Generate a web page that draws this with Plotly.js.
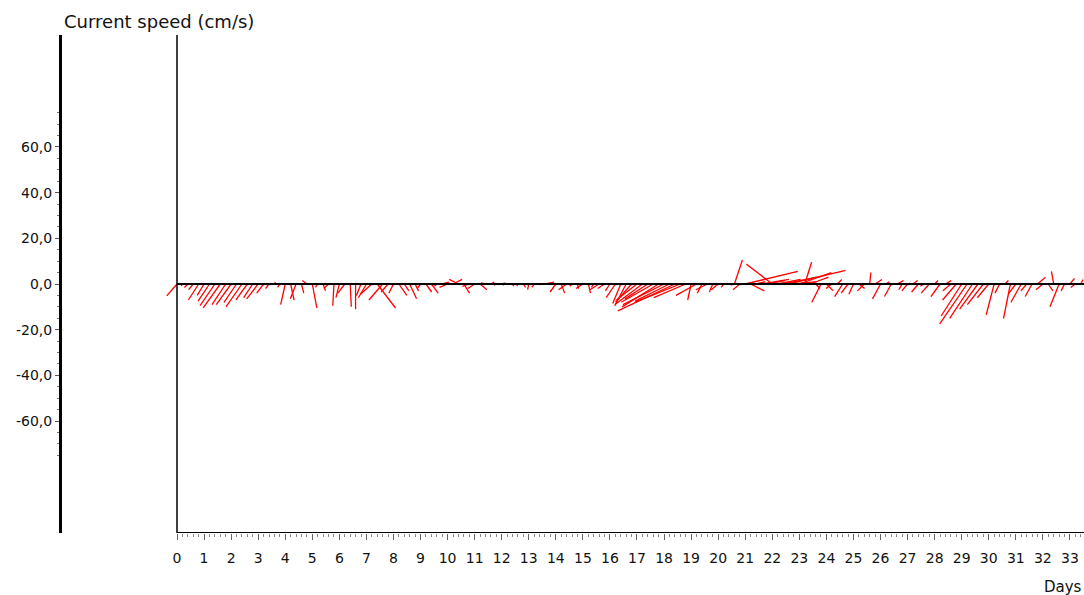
<!DOCTYPE html>
<html><head><meta charset="utf-8">
<script src="https://cdn.plot.ly/plotly-3.0.1.min.js"></script>
<style>html,body{margin:0;padding:0;background:#fff}#chart{width:1084px;height:595px}</style>
</head><body><div id="chart"></div>
<script>
// time of each current vector (days)
const t = [
 0.0,0.2,0.4,0.6,0.8, 1.0,1.2,1.4,1.6,1.8, 2.0,2.2,2.4,2.6,2.8, 3.0,3.2,3.4,3.6,3.8,
 4.0,4.2,4.4,4.6,4.8, 5.0,5.2,5.4,5.6,5.8, 6.0,6.2,6.4,6.6,6.8, 7.0,7.2,7.4,7.6,7.8,
 8.0,8.2,8.4,8.6,8.8, 9.0,9.2,9.4,9.6,9.8, 10.0,10.2,10.4,10.6,10.8, 11.0,11.2,11.4,11.6,11.8,
 12.0,12.2,12.4,12.6,12.8, 13.0,13.2,13.4,13.6,13.8, 14.0,14.2,14.4,14.6,14.8, 15.0,15.2,15.4,15.6,15.8,
 16.0,16.2,16.4,16.6,16.8, 17.0,17.2,17.4,17.6,17.8, 18.0,18.2,18.4,18.6,18.8, 19.0,19.2,19.4,19.6,19.8,
 20.0,20.2,20.4,20.6,20.8, 21.0,21.2,21.4,21.6,21.8, 22.0,22.2,22.4,22.6,22.8, 23.0,23.2,23.4,23.6,23.8,
 24.0,24.2,24.4,24.6,24.8, 25.0,25.2,25.4,25.6,25.8, 26.0,26.2,26.4,26.6,26.8, 27.0,27.2,27.4,27.6,27.8,
 28.0,28.2,28.4,28.6,28.8, 29.0,29.2,29.4,29.6,29.8, 30.0,30.2,30.4,30.6,30.8, 31.0,31.2,31.4,31.6,31.8,
 32.0,32.2,32.4,32.6,32.8, 33.0,33.2,33.4
];
// east component (cm/s)
const u = [
 -4.5,-0.5,-1.5,-2.0,-4.5, -3.0,-5.0,-6.5,-7.5,-6.0, -6.5,-5.5,-7.0,-5.0,-4.0, -5.0,-3.0,-1.5,0.5,-1.0,
 -2.0,1.5,-2.5,1.0,-2.0, 2.0,-1.0,1.0,-2.0,-0.5, -1.5,-3.0,0.5,0.0,-2.0, -3.5,-5.0,8.0,-6.0,-3.0,
 -2.0,3.5,2.0,3.0,1.5, -1.5,2.5,3.0,-1.0,3.0, -3.5,4.0,-4.0,2.5,-3.0, -3.0,3.0,-2.0,1.5,-1.0,
 1.0,-1.5,0.5,-0.5,1.0, -0.5,-1.0,0.5,4.0,1.5, -2.5,1.5,-3.5,-1.0,0.5, -3.0,1.0,-1.0,-4.0,-3.0,
 -2.0,-4.0,-3.5,-5.0,-7.0, -9.0,-12.0,-10.0,-14.0,-16.0, -18.0,-15.0,-25.0,-20.0,-14.0, -1.5,-9.0,-2.0,-5.0,-1.5,
 -3.0,-1.0,1.5,3.5,-3.0, 23.0,6.0,4.0,12.0,8.0, -11.4,10.0,15.0,25.0,10.0, 14.0,3.0,8.0,2.0,-4.0,
 3.0,-2.5,2.0,-3.5,-3.0, -2.0,2.5,-3.0,0.5,3.0, -3.5,1.5,-3.0,3.0,-1.5, -2.5,2.0,-3.0,-1.5,-3.5,
 1.5,-4.0,2.5,-3.5,-6.0, -9.0,-12.0,-10.0,-8.0,-7.0, -5.0,-3.5,-2.0,1.5,-3.0, -3.0,-4.5,-2.5,-3.0,3.5,
 -3.0,2.0,-1.0,-4.0,-1.5, 2.0,-2.0,1.0
];
// north component (cm/s)
const v = [
 -5.2,-0.8,-1.5,-2.5,-7.0, -5.0,-7.5,-9.5,-10.5,-9.0, -9.0,-8.0,-10.0,-7.0,-6.0, -6.5,-4.0,-2.0,0.8,-1.5,
 -9.0,-7.0,-6.5,-4.0,1.5, -10.5,-1.5,-3.0,-2.0,-9.5, -6.0,-4.0,-10.0,-11.0,-5.0, -6.0,-4.5,-10.5,-7.0,-3.5,
 -4.0,-5.0,-3.0,-6.5,-3.0, -2.0,-3.5,-4.0,-1.0,0.8, -1.5,2.0,2.0,-4.0,-1.0, -2.0,-2.5,0.5,0.8,-0.5,
 -0.5,0.5,-1.0,-0.8,-1.5, -2.5,-1.5,-0.5,0.8,0.5, -3.5,-4.0,-2.5,-1.0,-2.0, -2.0,-4.0,-1.5,-2.5,-2.0,
 -3.0,-6.0,-8.5,-9.5,-8.0, -7.0,-9.0,-6.5,-8.0,-10.0, -9.0,-7.5,-11.8,-8.0,-6.0, -7.0,-5.0,-4.0,-2.5,-3.5,
 -2.5,-1.5,-0.5,10.5,-2.5, 5.5,-3.0,1.0,2.0,1.5, 8.8,2.0,3.0,6.0,1.0, 5.0,9.5,3.0,-2.0,-8.0,
 -3.0,-2.0,2.0,-5.5,-4.0, -4.5,-2.0,-3.0,5.0,2.0, -6.5,1.0,-5.5,1.5,-2.5, -3.0,1.5,-3.5,-1.0,-4.0,
 1.5,-5.5,1.5,-3.0,-7.0, -14.0,-17.5,-15.0,-11.0,-9.0, -6.0,-13.5,-4.0,1.5,-15.0, -4.0,-8.0,-3.0,-5.5,3.0,
 -2.5,-3.0,5.5,-10.0,-3.0, 2.5,-1.5,2.0
];
const dayTicks = [0,1,2,3,4,5,6,7,8,9,10,11,12,13,14,15,16,17,18,19,20,21,22,23,24,25,26,27,28,29,30,31,32,33];
const speedTicks = [-60,-40,-20,0,20,40,60];
const speedTickText = ["-60,0","-40,0","-20,0","0,0","20,0","40,0","60,0"];

const W = 1084, H = 595;
const M = {l:62, r:0, t:35, b:62};
const xRange = [-4.25, 33.52];
const yRange = [-109, 109];
// stick plot: horizontal component drawn at the same pixel scale as the vertical
const pxPerDay = (W - M.l - M.r) / (xRange[1] - xRange[0]);
const pxPerUnit = (H - M.t - M.b) / (yRange[1] - yRange[0]);
const k = pxPerUnit / pxPerDay;

const sx = [], sy = [];
for (let i = 0; i < t.length; i++) {
  sx.push(t[i], t[i] + u[i] * k, null);
  sy.push(0, v[i], null);
}

const minorX = [];
for (let d = 0; d < 33.5; d += 0.2) {
  const r = Math.round(d * 10) / 10;
  if (Math.abs(r - Math.round(r)) > 1e-6) minorX.push(r);
}
const minorY = [];
for (let s = -75; s <= 75; s += 5) if (s % 20 !== 0) minorY.push(s);

const font = {family: 'DejaVu Sans, Arial, sans-serif', color: '#111'};

const data = [{
  type: 'scatter', mode: 'lines', x: sx, y: sy,
  line: {color: '#ff0000', width: 1.3}, hoverinfo: 'skip', showlegend: false
}];

const layout = {
  width: W, height: H, margin: M,
  paper_bgcolor: '#fff', plot_bgcolor: '#fff',
  showlegend: false,
  font: Object.assign({size: 14}, font),
  xaxis: {
    range: xRange, showgrid: false, zeroline: false, showline: false,
    tickmode: 'array', tickvals: dayTicks, ticktext: dayTicks.map(String),
    ticks: 'outside', ticklen: 6, tickwidth: 1, tickcolor: '#666',
    ticklabelstandoff: 6,
    tickfont: Object.assign({size: 14}, font),
    minor: {tickmode: 'array', tickvals: minorX, ticks: 'outside', ticklen: 3, tickwidth: 1, tickcolor: '#888', showgrid: false}
  },
  yaxis: {
    range: yRange, showgrid: false, zeroline: false,
    showline: true, linewidth: 3, linecolor: '#000',
    tickmode: 'array', tickvals: speedTicks, ticktext: speedTickText,
    ticks: 'outside', ticklen: 4, tickwidth: 1, tickcolor: '#555',
    tickfont: Object.assign({size: 14}, font),
    minor: {tickmode: 'array', tickvals: minorY, ticks: 'outside', ticklen: 2, tickwidth: 1, tickcolor: '#777', showgrid: false}
  },
  shapes: [
    {type: 'line', xref: 'x', yref: 'y', x0: 0, x1: xRange[1], y0: 0, y1: 0, line: {color: '#000', width: 2}},
    {type: 'line', xref: 'x', yref: 'y', x0: 0, x1: 0, y0: yRange[0], y1: yRange[1], line: {color: '#000', width: 1.5}},
    {type: 'line', xref: 'x', yref: 'y', x0: 0, x1: xRange[1], y0: yRange[0], y1: yRange[0], line: {color: '#000', width: 2}}
  ],
  annotations: [
    {text: 'Current speed (cm/s)', xref: 'paper', yref: 'paper', x: 0, y: 1, xanchor: 'left', yanchor: 'bottom', yshift: 1, showarrow: false, font: Object.assign({size: 18}, font)},
    {text: 'Days', xref: 'paper', yref: 'paper', x: 1, y: 0, xanchor: 'right', yanchor: 'top', yshift: -43, showarrow: false, font: Object.assign({size: 15}, font)}
  ]
};

Plotly.newPlot('chart', data, layout, {displayModeBar: false, staticPlot: true});
</script></body></html>
